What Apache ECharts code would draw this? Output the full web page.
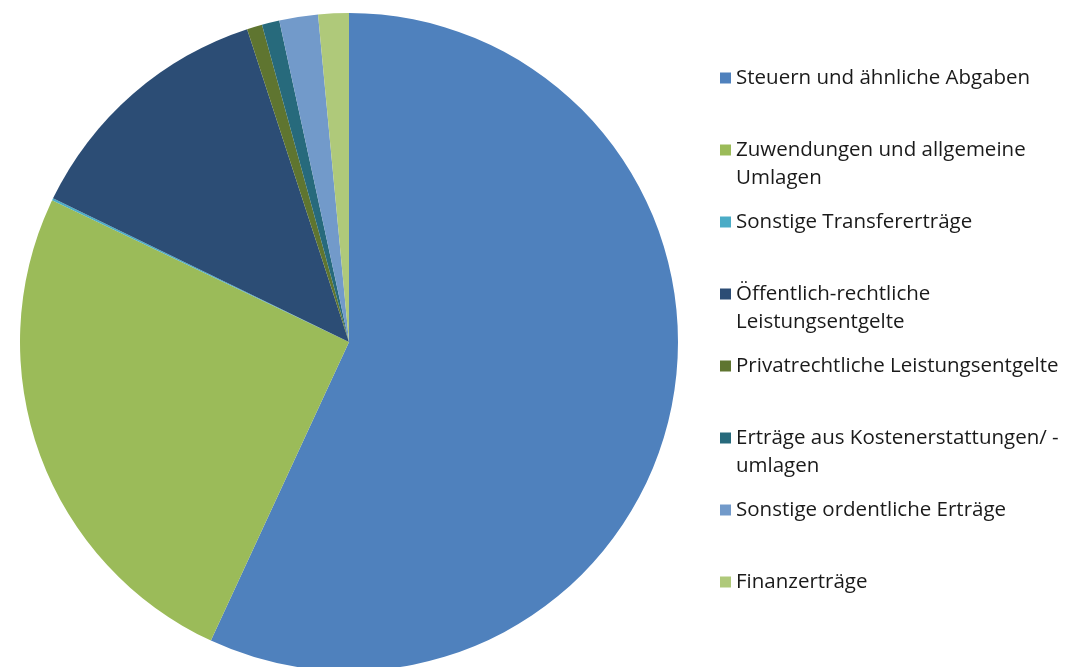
<!DOCTYPE html>
<html>
<head>
<meta charset="utf-8">
<script src="https://cdn.jsdelivr.net/npm/echarts@6/dist/echarts.min.js"></script>
<style>
  html, body { margin: 0; padding: 0; background: #fff; }
  #main { width: 1068px; height: 667px; }
</style>
</head>
<body>
<div id="main"></div>
<script>
// categories (legend lines as in the original, wrapped)
var categories = [
  'Steuern und ähnliche Abgaben',
  'Zuwendungen und allgemeine Umlagen',
  'Sonstige Transfererträge',
  'Öffentlich-rechtliche Leistungsentgelte',
  'Privatrechtliche Leistungsentgelte',
  'Erträge aus Kostenerstattungen/ -umlagen',
  'Sonstige ordentliche Erträge',
  'Finanzerträge'
]
var legendLines = [
  ['Steuern und ähnliche Abgaben'],
  ['Zuwendungen und allgemeine', 'Umlagen'],
  ['Sonstige Transfererträge'],
  ['Öffentlich-rechtliche', 'Leistungsentgelte'],
  ['Privatrechtliche Leistungsentgelte'],
  ['Erträge aus Kostenerstattungen/ -', 'umlagen'],
  ['Sonstige ordentliche Erträge'],
  ['Finanzerträge']
]
// share in percent
var shares = [56.9, 25.2, 0.1, 12.8, 0.75, 0.86, 1.9, 1.5]
var colors = ['#4F81BD', '#9BBB59', '#4BACC6', '#2C4D75', '#5F7530', '#276A7C', '#729ACA', '#AFC97A']

var chart = echarts.init(document.getElementById('main'))

var pieData = categories.map(function (name, i) {
  return { name: name, value: shares[i], itemStyle: { color: colors[i] } }
})

chart.setOption({
  animation: false,
  legend: {
    orient: 'vertical',
    left: 715,
    top: 31,
    itemWidth: 11,
    itemHeight: 11,
    itemGap: -12,
    itemTextGap: 7,
    icon: 'rect',
    selectedMode: false,
    data: categories,
    formatter: function (name) {
      var lines = legendLines[categories.indexOf(name)]
      return '\n' + lines[0] + '\n' + (lines[1] || '')
    },
    textStyle: {
      fontFamily: 'Open Sans',
      fontSize: 20.5,
      lineHeight: 28,
      color: '#1a1a1a'
    }
  },
  series: [{
    type: 'pie',
    center: [349, 342],
    radius: 329,
    startAngle: 90,
    clockwise: true,
    label: { show: false },
    labelLine: { show: false },
    emphasis: { disabled: true },
    data: pieData
  }]
})
</script>
</body>
</html>
